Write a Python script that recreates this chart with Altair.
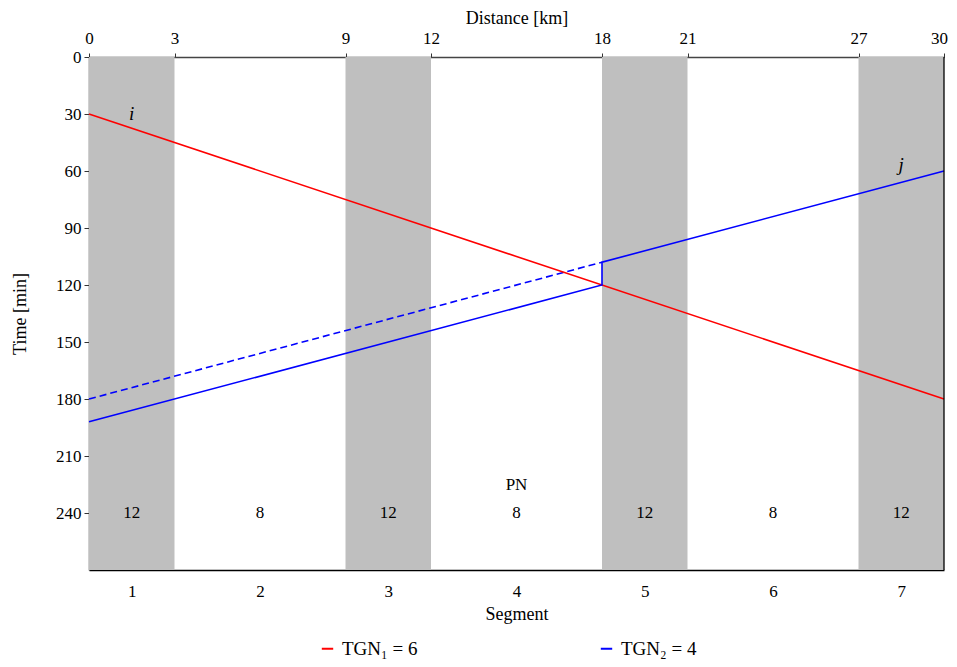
import altair as alt
import pandas as pd

FONT = "Liberation Serif"

# Data
band_start = [0, 9, 18, 27]
band_end = [3, 12, 21, 30]
time_min, time_max = 0, 270

distance_ticks = [0, 3, 9, 12, 18, 21, 27, 30]
time_ticks = [0, 30, 60, 90, 120, 150, 180, 210, 240]

segment_centers = [1.5, 6, 10.5, 15, 19.5, 24, 28.5]
segment_numbers = ["1", "2", "3", "4", "5", "6", "7"]
segment_values = ["12", "8", "12", "8", "12", "8", "12"]
segment_value_time = 240

series_names = ["TGN\u2081 = 6", "TGN\u2082 = 4"]
series_colors = ["#ff0000", "#0000ff"]

red_x = [0, 30]
red_t = [30, 180]
blue_x = [0, 18, 18, 30]
blue_t = [192, 120, 108, 60]
blue_dash_x = [0, 18]
blue_dash_t = [180, 108]

point_labels = ["i", "j"]
point_label_x = [1.5, 28.5]
point_label_t = [30, 57]

pn_text = ["PN"]
pn_x = [15]
pn_t = [225]

# Tables
bands = pd.DataFrame({"x0": band_start, "x1": band_end,
                      "t0": [time_min] * len(band_start),
                      "t1": [time_max] * len(band_start)})
lines = pd.DataFrame({
    "x": red_x + blue_x,
    "t": red_t + blue_t,
    "order": list(range(len(red_x))) + list(range(len(blue_x))),
    "series": [series_names[0]] * len(red_x) + [series_names[1]] * len(blue_x),
})
dashed = pd.DataFrame({"x": blue_dash_x, "t": blue_dash_t})
segs = pd.DataFrame({"x": segment_centers, "seg": segment_numbers,
                     "val": segment_values,
                     "t": [segment_value_time] * len(segment_centers)})
plabels = pd.DataFrame({"x": point_label_x, "t": point_label_t, "lab": point_labels})
pn = pd.DataFrame({"x": pn_x, "t": pn_t, "lab": pn_text})

xscale = alt.Scale(domain=[0, 30], nice=False, zero=False)
yscale = alt.Scale(domain=[time_min, time_max], reverse=True, nice=False)

LAB = 17
TIT = 18

top_axis = alt.Axis(orient="top", values=distance_ticks, title="Distance [km]",
                    grid=False, labelFontSize=LAB, titleFontSize=TIT,
                    titleFontWeight="normal", tickSize=4, labelPadding=6,
                    titlePadding=2, domainColor="#444444", domainWidth=1.5,
                    tickColor="#333333", labelColor="black", titleColor="black",
                    labelFlush=False, labelOverlap=False,
                    labelOffset={"condition": {"test": "datum.value == 30", "value": -5},
                                 "value": 0})
yaxis = alt.Axis(values=time_ticks, title="Time [min]", grid=False,
                 labelFontSize=LAB, titleFontSize=TIT, titleFontWeight="normal",
                 tickSize=5, labelPadding=3, titlePadding=26,
                 domainColor="#444444", domainWidth=1.5, tickColor="#333333",
                 labelColor="black", titleColor="black", labelFlush=False,
                 labelOverlap=False)

rects = alt.Chart(bands).mark_rect(color="#bfbfbf").encode(
    x=alt.X("x0:Q", scale=xscale, axis=top_axis),
    x2="x1:Q",
    y=alt.Y("t0:Q", scale=yscale, axis=yaxis),
    y2="t1:Q",
)

line_layer = alt.Chart(lines).mark_line(strokeWidth=1.6).encode(
    x=alt.X("x:Q", scale=xscale, axis=None),
    y=alt.Y("t:Q", scale=yscale, axis=None),
    order="order:Q",
    color=alt.Color("series:N",
                    scale=alt.Scale(domain=series_names, range=series_colors),
                    legend=alt.Legend(title=None, orient="none", direction="horizontal",
                                      legendX=229, legendY=582,
                                      symbolType="stroke", symbolSize=130,
                                      symbolStrokeWidth=2, labelFontSize=19,
                                      columnPadding=178, labelColor="black",
                                      labelOffset=5, labelLimit=200)),
)

dash_layer = alt.Chart(dashed).mark_line(strokeWidth=1.6, strokeDash=[7, 4],
                                         color="#0000ff").encode(
    x=alt.X("x:Q", scale=xscale, axis=None),
    y=alt.Y("t:Q", scale=yscale, axis=None),
)

bottom_axis = alt.Axis(orient="bottom", values=segment_centers,
                       labelExpr="indexof([1.5,6,10.5,15,19.5,24,28.5], datum.value) + 1",
                       title="Segment", grid=False, ticks=False, domain=True,
                       domainColor="black", domainWidth=1.3, labelFontSize=LAB,
                       titleFontSize=TIT, titleFontWeight="normal", labelPadding=13,
                       titlePadding=6, labelColor="black", titleColor="black",
                       labelFlush=False, labelOverlap=False)

seg_text = alt.Chart(segs).mark_text(fontSize=LAB, font=FONT, color="black").encode(
    x=alt.X("x:Q", scale=xscale, axis=bottom_axis),
    y=alt.Y("t:Q", scale=yscale, axis=None),
    text="val:N",
)

plab_text = alt.Chart(plabels).mark_text(fontSize=19, font=FONT, fontStyle="italic",
                                         color="black").encode(
    x=alt.X("x:Q", scale=xscale, axis=None),
    y=alt.Y("t:Q", scale=yscale, axis=None),
    text="lab:N",
)

pn_layer = alt.Chart(pn).mark_text(fontSize=LAB, font=FONT, color="black").encode(
    x=alt.X("x:Q", scale=xscale, axis=None),
    y=alt.Y("t:Q", scale=yscale, axis=None),
    text="lab:N",
)

right_edge = alt.Chart(pd.DataFrame({"x": [30]})).mark_rule(color="black", strokeWidth=1.3).encode(
    x=alt.X("x:Q", scale=xscale, axis=None),
)

chart = alt.layer(rects, dash_layer, line_layer, seg_text, plab_text, pn_layer,
                  right_edge).resolve_axis(x="independent", y="independent").properties(
    width=855, height=513,
    autosize=alt.AutoSizeParams(type="none"),
    padding={"left": 81, "top": 49, "right": 5, "bottom": 89},
).configure(font=FONT).configure_view(stroke=None)

chart.save("out.html", embed_options={"renderer": "svg", "actions": False})
